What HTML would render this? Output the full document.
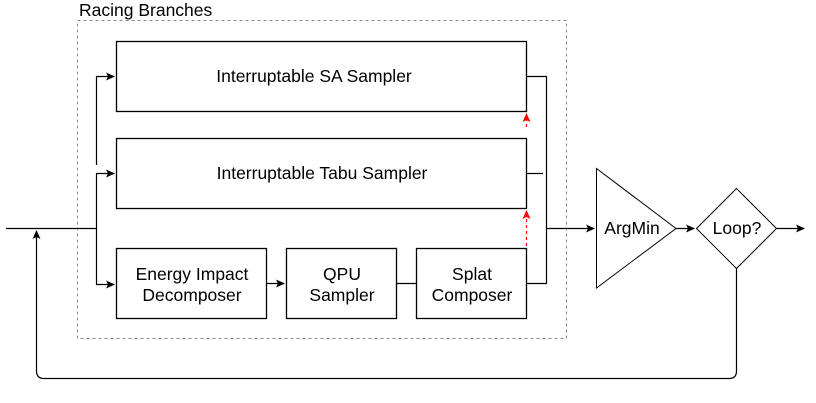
<!DOCTYPE html>
<html><head><meta charset="utf-8"><style>
html,body{margin:0;padding:0;background:#fff;}
svg{display:block;font-family:"Liberation Sans",Arial,sans-serif;}
</style></head><body>
<svg width="816" height="403" viewBox="0 0 816 403" xmlns="http://www.w3.org/2000/svg">
<defs>
<marker id="a" markerWidth="10" markerHeight="10" refX="8" refY="5" orient="auto" markerUnits="userSpaceOnUse">
<path d="M0,1 L9,5 L0,9 L2,5 Z" fill="#000"/></marker>
<marker id="r" markerWidth="10" markerHeight="10" refX="8" refY="5" orient="auto" markerUnits="userSpaceOnUse">
<path d="M0,1 L9,5 L0,9 L2,5 Z" fill="#f00"/></marker>
</defs>
<rect x="77.5" y="20.5" width="489" height="318" fill="none" stroke="#888" stroke-dasharray="3,3"/>
<text x="79" y="16" font-size="17.5">Racing Branches</text>
<g fill="none" stroke="#000" stroke-width="1.3">
<rect x="116.5" y="41.5" width="410" height="70"/>
<rect x="116.5" y="138.5" width="410" height="70"/>
<rect x="116.5" y="248.5" width="150" height="70"/>
<rect x="286.5" y="248.5" width="110" height="70"/>
<rect x="416.5" y="248.5" width="110" height="70"/>
</g>
<g font-size="17.5" text-anchor="middle">
<text x="314" y="82">Interruptable SA Sampler</text>
<text x="322" y="179">Interruptable Tabu Sampler</text>
<text x="192" y="280">Energy Impact</text>
<text x="192" y="301">Decomposer</text>
<text x="342" y="280">QPU</text>
<text x="342" y="301">Sampler</text>
<text x="472" y="280">Splat</text>
<text x="472" y="301">Composer</text>
<text x="632" y="234">ArgMin</text>
<text x="737" y="234">Loop?</text>
</g>
<g fill="none" stroke="#000" stroke-width="1.2">
<path d="M6,228.5 H96.5"/>
<path d="M96.5,165 V76.5 H114" marker-end="url(#a)"/>
<path d="M96.5,228.5 V173.5 H114" marker-end="url(#a)"/>
<path d="M96.5,228.5 V284.5 H114" marker-end="url(#a)"/>
<path d="M266.5,283.5 H284" marker-end="url(#a)"/>
<path d="M396.5,283.5 H416.5"/>
<path d="M526.5,76.5 H546.5 V283.5 H526.5"/>
<path d="M526.5,173.5 H543"/>
<path d="M546.5,228.5 H594" marker-end="url(#a)"/>
<path d="M596.5,168.5 L676,228.5 L596.5,288 Z" stroke-width="1"/>
<path d="M676,228.5 H694" marker-end="url(#a)"/>
<path d="M736.5,188.5 L776.5,228.5 L736.5,268.5 L696.5,228.5 Z" stroke-width="1"/>
<path d="M776.5,228.5 H804" marker-end="url(#a)"/>
<path d="M736.5,268.5 V371 Q736.5,378.5 729,378.5 H44 Q36.5,378.5 36.5,371 V231" marker-end="url(#a)"/>
</g>
<g fill="none" stroke="#f00" stroke-width="1.2" stroke-dasharray="3,3">
<path d="M526.5,127 V114" marker-end="url(#r)"/>
<path d="M526.5,246 V211" marker-end="url(#r)"/>
</g>
</svg>
</body></html>
